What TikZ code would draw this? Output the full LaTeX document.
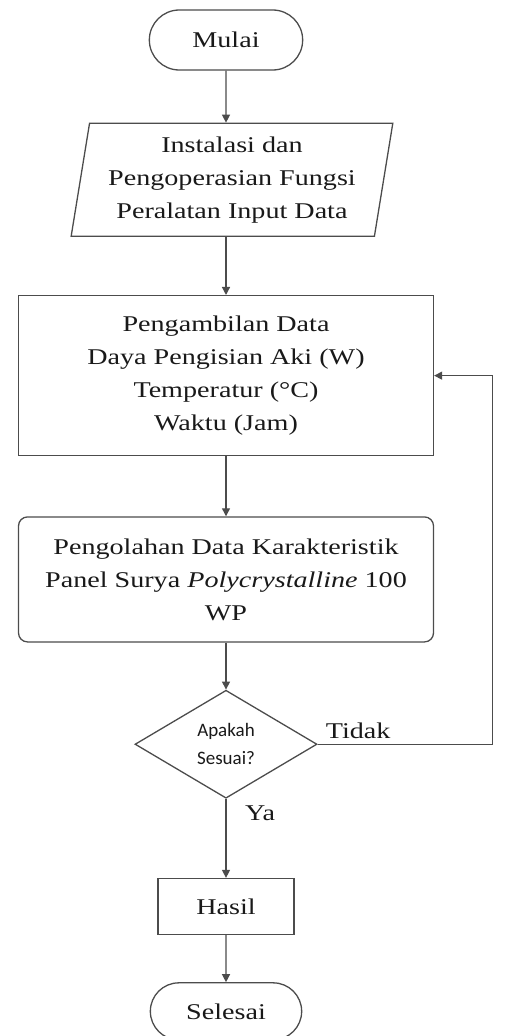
\documentclass[tikz,border=0pt]{standalone}
\usepackage{fontspec}
\setmainfont{Liberation Serif}[FakeStretch=1.25]
\newfontfamily\tanyafont{Carlito}
\usepackage{tikz}
\usetikzlibrary{arrows.meta, positioning, shapes.geometric, shapes.misc}

\begin{document}
\begin{tikzpicture}[
    x=1pt, y=1pt,
    base/.style={draw=black!70, line width=1.3pt, text=black!90,
      font=\fontsize{22.5}{33}\selectfont, align=center},
    term/.style={base, rounded rectangle, minimum width=160pt, minimum height=60pt},
    io/.style={base, trapezium, trapezium left angle=80, trapezium right angle=100,
      trapezium stretches=true, minimum width=322pt, minimum height=113pt},
    proses/.style={base, rectangle, minimum width=415pt},
    cekbox/.style={base, diamond, inner sep=0pt, minimum width=182pt, minimum height=108pt,
      font=\tanyafont\fontsize{19}{28}\selectfont},
    lbl/.style={inner sep=0pt, text=black!90, font=\fontsize{22.5}{27}\selectfont},
    arr/.style={-{Triangle[length=8pt, width=8pt]}, draw=black!70, line width=1.3pt}
  ]
    \useasboundingbox (0,0) rectangle (505,-1036);

    \node[term] (mulai) at (226,-40) {Mulai};
    \node[io, below=52pt of mulai, xshift=6pt] (instal) {Instalasi dan\\Pengoperasian Fungsi\\Peralatan Input Data};
    \node[proses, minimum height=160pt, below=58pt of mulai |- instal.south] (ambil) {Pengambilan Data\\Daya Pengisian Aki (W)\\Temperatur (°C)\\Waktu (Jam)};
    \node[proses, rounded corners=9pt, minimum height=125pt, below=60pt of ambil] (olah) {Pengolahan Data Karakteristik\\Panel Surya \textit{Polycrystalline} 100\\WP};
    \node[cekbox, below=47pt of olah] (cek) {Apakah\\Sesuai?};
    \node[proses, minimum width=136pt, minimum height=56pt, below=79pt of cek] (hasil) {Hasil};
    \node[term, minimum width=158pt, minimum height=57pt, below=47pt of hasil] (selesai) {Selesai};

    \node[lbl, above right=5pt and 8pt of cek.east] (tidak) {Tidak};
    \node[lbl, below right=7pt and 19pt of cek.south] (ya) {Ya};

    \draw[arr] (mulai) -- (mulai |- instal.north);
    \draw[arr] (ambil |- instal.south) -- (ambil);
    \draw[arr] (ambil) -- (olah);
    \draw[arr] (olah) -- (cek);
    \draw[arr] (cek) -- (hasil);
    \draw[arr] (hasil) -- (selesai);
    \draw[arr] (cek.east) -- ++(175,0) |- (ambil.east);
  \end{tikzpicture}
\end{document}
